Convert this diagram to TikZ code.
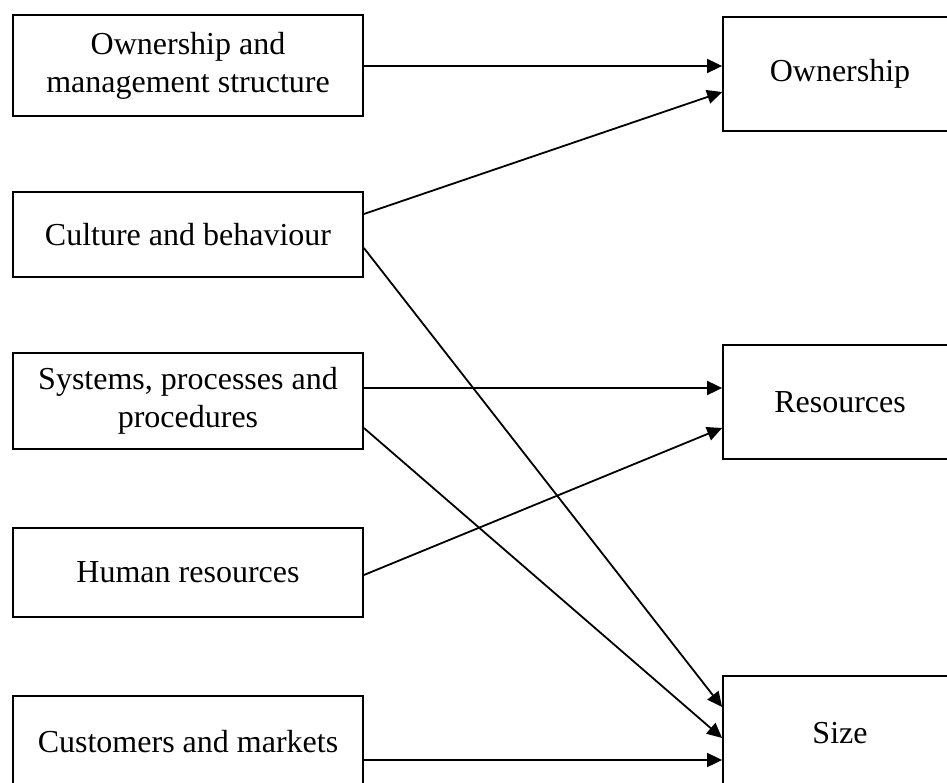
\documentclass[tikz,border=0pt]{standalone}
\usepackage{fontspec}
\setmainfont{Liberation Serif}
\usetikzlibrary{arrows.meta}
\begin{document}
\begin{tikzpicture}[x=1pt,y=-1pt,
  box/.style={draw,line width=1.8pt,rectangle,inner sep=0pt,align=center,
    font=\fontsize{32}{38}\selectfont},
  lbox/.style={box,minimum width=350pt},
  rbox/.style={box,minimum width=234pt,minimum height=114pt},
  conn/.style={line width=1.8pt,-{Triangle[length=15pt,width=14pt]}}]
\useasboundingbox (0,0) rectangle (947,783);
\clip (0,0) rectangle (947,783);
\node[lbox,minimum height=101pt] (L1) at (188,65.5) {Ownership and\\management structure};
\node[lbox,minimum height=85pt] (L2) at (188,234.5) {Culture and behaviour};
\node[lbox,minimum height=96pt] (L3) at (188,401) {Systems, processes and\\procedures};
\node[lbox,minimum height=89pt] (L4) at (188,572.5) {Human resources};
\node[lbox,minimum height=92pt] (L5) at (188,742) {Customers and markets};
\node[rbox] (R1) at (840,74) {Ownership};
\node[rbox] (R2) at (840,402) {Resources};
\node[rbox] (R3) at (840,733) {Size};
\draw[conn] (L1.east |- 0,66) -- (R1.west |- 0,66);
\draw[conn] (L2.east |- 0,214) -- (R1.west |- 0,92);
\draw[conn] (L2.east |- 0,248) -- (R3.west |- 0,707);
\draw[conn] (L3.east |- 0,388) -- (R2.west |- 0,388);
\draw[conn] (L3.east |- 0,428) -- (R3.west |- 0,738);
\draw[conn] (L4.east |- 0,575) -- (R2.west |- 0,428);
\draw[conn] (L5.east |- 0,760) -- (R3.west |- 0,760);
\end{tikzpicture}
\end{document}
